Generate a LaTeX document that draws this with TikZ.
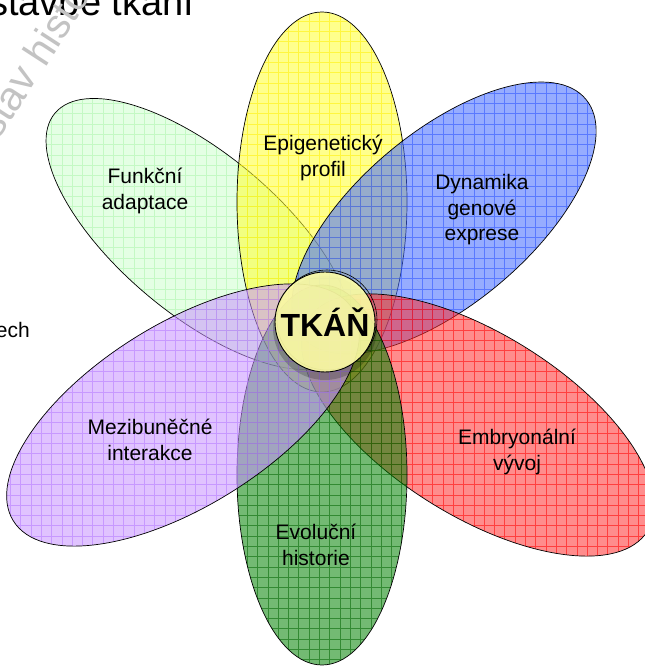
\documentclass[tikz,border=0pt]{standalone}
\usepackage{fontspec}
\setmainfont{Liberation Sans}
\definecolor{yfill}{RGB}{255,255,46}
\definecolor{ygrid}{RGB}{255,240,0}
\definecolor{lgfill}{RGB}{206,255,206}
\definecolor{lggrid}{RGB}{170,245,170}
\definecolor{bfill}{RGB}{65,105,255}
\definecolor{bgrid}{RGB}{40,80,255}
\definecolor{rfill}{RGB}{255,46,46}
\definecolor{rgrid}{RGB}{255,0,0}
\definecolor{gfill}{RGB}{0,130,0}
\definecolor{ggrid}{RGB}{0,100,0}
\definecolor{pfill}{RGB}{200,146,255}
\definecolor{pgrid}{RGB}{180,120,255}
\definecolor{tkfill}{RGB}{255,255,165}
\definecolor{wmgrey}{RGB}{195,195,195}
\newcommand\drawpetal[4]{%
  \begin{scope}
    \clip #1 ellipse[#2];
    \fill[#3, fill opacity=.55] #1 ellipse[#2];
    \draw[#4, draw opacity=.55, line width=.6pt] (-12pt,-12pt) grid[step=10.3pt] (660pt,690pt);
  \end{scope}
  \draw[petaledge] #1 ellipse[#2];
}
\begin{document}
\begin{tikzpicture}[x=1pt,y=1pt,
  petaledge/.style={draw=black, line width=0.7pt},
  lbl/.style={font=\fontsize{21}{25.5}\selectfont, align=center, text=black, inner sep=0pt},
]
\useasboundingbox (0,0) rectangle (645,670);
\clip (0,0) rectangle (645,670);
\fill[white] (0,0) rectangle (645,670);
% title and watermark
\node[anchor=base west, font=\fontsize{38}{44}\selectfont, inner sep=0pt] (title) at (-11,654) {stavbě tkání};
\node[anchor=base west, rotate=57, text=wmgrey, font=\fontsize{41}{48}\selectfont, inner sep=0pt] (wm) at (-2,529) {stav histologie};
\node[anchor=base east, lbl] (ech) at (30,332) {ech};
% petal centres
\coordinate (cLG) at (199,436);
\coordinate (cY) at (322,468);
\coordinate (cB) at (444,452);
\coordinate (cR) at (478,245);
\coordinate (cG) at (322,195);
\coordinate (cP) at (183,255);
% petals
\drawpetal{(cLG)}{x radius=188pt,y radius=80pt,rotate=-40}{lgfill}{lggrid}
\drawpetal{(cY)}{x radius=85pt,y radius=190pt}{yfill}{ygrid}
\drawpetal{(cB)}{x radius=185pt,y radius=86pt,rotate=40}{bfill}{bgrid}
\drawpetal{(cR)}{x radius=200pt,y radius=91pt,rotate=-32}{rfill}{rgrid}
\drawpetal{(cG)}{x radius=85pt,y radius=190pt}{gfill}{ggrid}
\drawpetal{(cP)}{x radius=200pt,y radius=91pt,rotate=32}{pfill}{pgrid}
% labels
\node[lbl] (epi) at (323,512) {Epigenetický\\profil};
\node[lbl] (fun) at (145,479) {Funkční\\adaptace};
\node[lbl] (dyn) at (482,460) {Dynamika\\genové\\exprese};
\node[lbl] (mez) at (150,230) {Mezibuněčné\\interakce};
\node[lbl] (emb) at (517,218) {Embryonální\\vývoj};
\node[lbl] (evo) at (316,125) {Evoluční\\historie};
% centre
\fill[black, opacity=.2] (325,342) circle (52pt);
\draw[black, line width=.6pt] (327,350) circle (50pt);
\node[circle, draw=black, line width=.9pt, fill=tkfill, fill opacity=.9, text opacity=1,
      minimum size=100pt, inner sep=0pt, font=\bfseries\fontsize{32}{38}\selectfont] (tkan) at (325,348) {TKÁŇ};
\end{tikzpicture}
\end{document}
